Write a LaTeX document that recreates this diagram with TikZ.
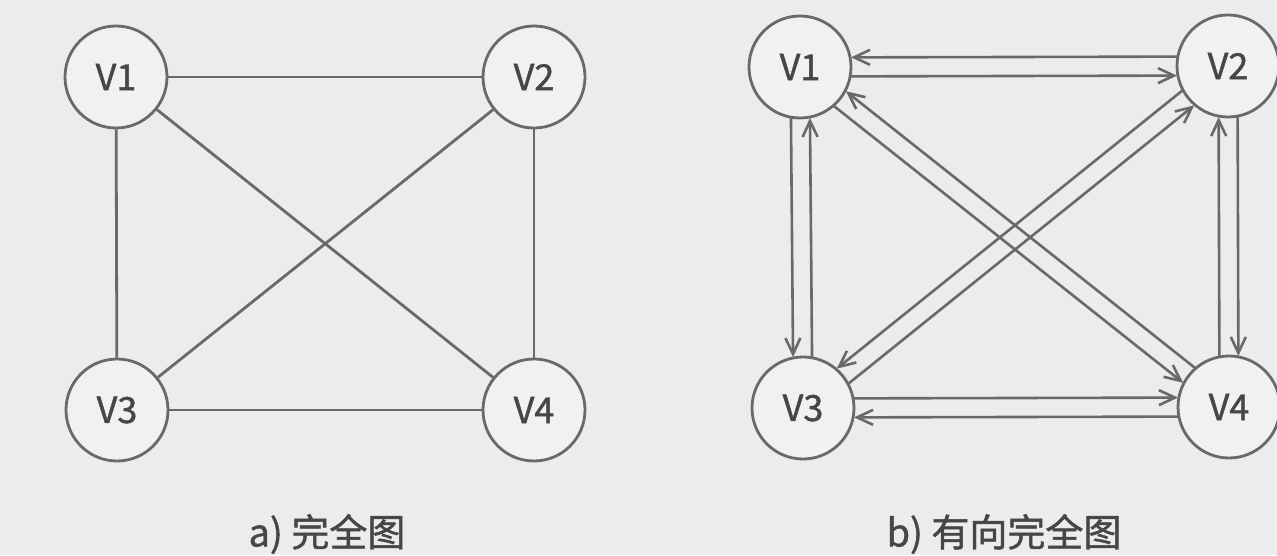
\documentclass[tikz,border=0pt]{standalone}
\usepackage{fontspec}
\setmainfont{Noto Sans CJK SC}[FakeBold=1.2]
\usetikzlibrary{calc,arrows.meta}
\definecolor{bg}{RGB}{236,236,238}
\definecolor{ln}{RGB}{105,105,105}
\definecolor{nf}{RGB}{241,241,241}
\definecolor{tx}{RGB}{70,70,70}
\tikzset{
  vtx/.style={circle,draw=ln,fill=nf,line width=2.8pt,minimum size=102pt,inner sep=0pt,text=tx,font=\fontsize{36}{36}\selectfont},
  edge/.style={draw=ln,line width=2.8pt},
  arr/.style={draw=ln,line width=2.6pt,-{Straight Barb[length=16pt,width=15pt]},shorten <=50pt,shorten >=51pt},
  captext/.style={text=tx,font=\fontsize{38}{38}\selectfont,inner sep=0pt}
}
\begin{document}
\begin{tikzpicture}[x=1pt,y=1pt]
\fill[bg] (0,0) rectangle (1277,555);
\useasboundingbox (0,0) rectangle (1277,555);
% left graph
\node[vtx] (a1) at (116,478) {V1};
\node[vtx] (a2) at (534,478) {V2};
\node[vtx] (a3) at (117,145) {V3};
\node[vtx] (a4) at (534,145) {V4};
\draw[edge] (a1) -- (a2);
\draw[edge] (a1) -- (a3);
\draw[edge] (a1) -- (a4);
\draw[edge] (a2) -- (a3);
\draw[edge] (a2) -- (a4);
\draw[edge] (a3) -- (a4);
% right graph
\node[vtx] (b1) at (800,488) {V1};
\node[vtx] (b2) at (1228,489) {V2};
\node[vtx] (b3) at (803,147) {V3};
\node[vtx] (b4) at (1229,148) {V4};
\def\off{9.5pt}
% V1 <-> V2
\draw[arr] ($(b1)!\off!-90:(b2)$) -- ($(b2)!\off!90:(b1)$);
\draw[arr] ($(b2)!\off!-90:(b1)$) -- ($(b1)!\off!90:(b2)$);
% V1 <-> V3
\draw[arr] ($(b1)!\off!-90:(b3)$) -- ($(b3)!\off!90:(b1)$);
\draw[arr] ($(b3)!\off!-90:(b1)$) -- ($(b1)!\off!90:(b3)$);
% V1 <-> V4
\draw[arr] ($(b1)!\off!-90:(b4)$) -- ($(b4)!\off!90:(b1)$);
\draw[arr] ($(b4)!\off!-90:(b1)$) -- ($(b1)!\off!90:(b4)$);
% V2 <-> V3
\draw[arr] ($(b2)!\off!-90:(b3)$) -- ($(b3)!\off!90:(b2)$);
\draw[arr] ($(b3)!\off!-90:(b2)$) -- ($(b2)!\off!90:(b3)$);
% V2 <-> V4 (left side)
\draw[arr] ($(b2)!\off!90:(b4)$) -- ($(b4)!\off!-90:(b2)$);
\draw[arr] ($(b4)!\off!90:(b2)$) -- ($(b2)!\off!-90:(b4)$);
% V3 <-> V4 (left side)
\draw[arr] ($(b3)!\off!90:(b4)$) -- ($(b4)!\off!-90:(b3)$);
\draw[arr] ($(b4)!\off!90:(b3)$) -- ($(b3)!\off!-90:(b4)$);
% captions
\node[captext] (ca) at (327,21) {a) 完全图};
\node[captext] (cb) at (1004,21) {b) 有向完全图};
\end{tikzpicture}
\end{document}
